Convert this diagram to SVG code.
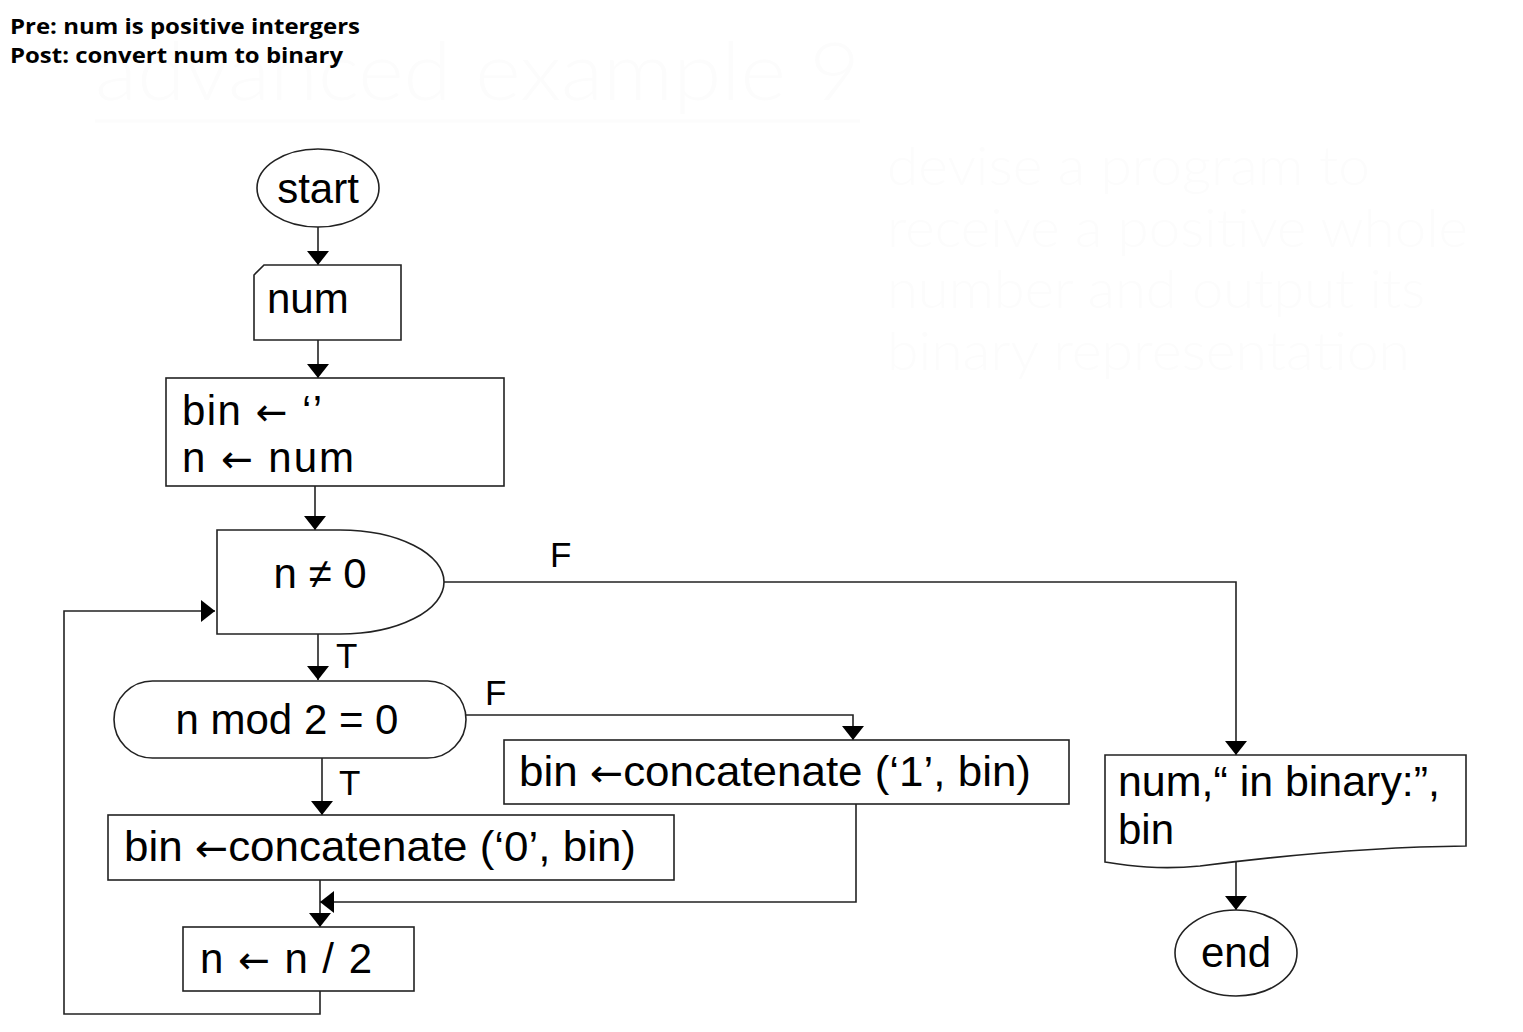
<svg xmlns="http://www.w3.org/2000/svg" width="1523" height="1032" viewBox="0 0 1523 1032">
<style>
.bg{fill:#fcfcfc;font-family:Lato,"Open Sans","Liberation Sans",sans-serif;font-weight:300}
.hdr{font-family:"Open Sans","DejaVu Sans",sans-serif;font-weight:bold;font-size:22px;fill:#000}
.shape{fill:#fff;stroke:#222;stroke-width:1.6}
.t{font-family:"Liberation Sans",Arial,sans-serif;font-size:42px;fill:#000}
.ar{font-family:"DejaVu Sans",sans-serif;font-size:38px}
.lbl{font-family:"Liberation Sans",Arial,sans-serif;font-size:35px;fill:#000}
.conn{fill:none;stroke:#222;stroke-width:1.6}
</style>
<defs>
<marker id="ah" viewBox="0 0 14 22" refX="14" refY="11" markerWidth="14" markerHeight="22" markerUnits="userSpaceOnUse" orient="auto">
<path d="M0,0 L14,11 L0,22 Z" fill="#000"/>
</marker>
</defs>
<rect width="1523" height="1032" fill="#fff"/>
<g id="background-text">
<text class="bg" x="95" y="100" font-size="80" textLength="765" lengthAdjust="spacingAndGlyphs">advanced example 9</text>
<line x1="95" y1="121" x2="860" y2="121" stroke="#fcfcfc" stroke-width="3"/>
<text class="bg" x="887" y="185" font-size="54" textLength="483" lengthAdjust="spacingAndGlyphs">devise a program to</text>
<text class="bg" x="887" y="247" font-size="54" textLength="581" lengthAdjust="spacingAndGlyphs">receive a positive whole</text>
<text class="bg" x="887" y="308" font-size="54" textLength="538" lengthAdjust="spacingAndGlyphs">number and output its</text>
<text class="bg" x="887" y="370" font-size="54" textLength="523" lengthAdjust="spacingAndGlyphs">binary representation</text>
</g>
<g id="header">
<text class="hdr" x="10" y="34" textLength="350" lengthAdjust="spacingAndGlyphs">Pre: num is positive intergers</text>
<text class="hdr" x="10" y="63" textLength="333" lengthAdjust="spacingAndGlyphs">Post: convert num to binary</text>
</g>
<g id="connectors">
<path class="conn" d="M318,227 V265" marker-end="url(#ah)"/>
<path class="conn" d="M318,340 V378" marker-end="url(#ah)"/>
<path class="conn" d="M315,486 V530" marker-end="url(#ah)"/>
<path class="conn" d="M318,634 V680" marker-end="url(#ah)"/>
<path class="conn" d="M322,758 V815" marker-end="url(#ah)"/>
<path class="conn" d="M466,715 H853 V740" marker-end="url(#ah)"/>
<path class="conn" d="M320,880 V927" marker-end="url(#ah)"/>
<path class="conn" d="M856,804 V902 H320" marker-end="url(#ah)"/>
<path class="conn" d="M320,991 V1014 H64 V611 H215" marker-end="url(#ah)"/>
<path class="conn" d="M444,582 H1236 V755" marker-end="url(#ah)"/>
<path class="conn" d="M1236,862 V910" marker-end="url(#ah)"/>
<text class="lbl" x="550" y="567">F</text>
<text class="lbl" x="485" y="705">F</text>
<text class="lbl" x="336" y="668">T</text>
<text class="lbl" x="339" y="795">T</text>
</g>
<g id="start">
<ellipse class="shape" cx="318" cy="188" rx="61" ry="39"/>
<text class="t" x="318" y="203" text-anchor="middle">start</text>
</g>
<g id="input-num">
<path class="shape" d="M264,265 H401 V340 H254 V275 Z"/>
<text class="t" x="267" y="313">num</text>
</g>
<g id="init">
<rect class="shape" x="166" y="378" width="338" height="108"/>
<text class="t" x="182" y="425" textLength="140" lengthAdjust="spacing">bin <tspan class="ar">←</tspan> ‘’</text>
<text class="t" x="182" y="472" textLength="172" lengthAdjust="spacing">n <tspan class="ar">←</tspan> num</text>
</g>
<g id="loop-cond">
<path class="shape" d="M217,530 H340 A104,52 0 0 1 340,634 H217 Z"/>
<text class="t" x="320" y="588" text-anchor="middle">n ≠ 0</text>
</g>
<g id="mod-cond">
<rect class="shape" x="114" y="681" width="352" height="77" rx="38.5" ry="38.5"/>
<text class="t" x="287" y="734" text-anchor="middle">n mod 2 = 0</text>
</g>
<g id="concat-1">
<rect class="shape" x="504" y="740" width="565" height="64"/>
<text class="t" x="519" y="786" textLength="512" lengthAdjust="spacingAndGlyphs">bin <tspan class="ar">←</tspan>concatenate (‘1’, bin)</text>
</g>
<g id="concat-0">
<rect class="shape" x="108" y="815" width="566" height="65"/>
<text class="t" x="124" y="861" textLength="512" lengthAdjust="spacingAndGlyphs">bin <tspan class="ar">←</tspan>concatenate (‘0’, bin)</text>
</g>
<g id="halve">
<rect class="shape" x="183" y="927" width="231" height="64"/>
<text class="t" x="200" y="973" textLength="172" lengthAdjust="spacing">n <tspan class="ar">←</tspan> n / 2</text>
</g>
<g id="output">
<path class="shape" d="M1105,755 H1466 V846 C1370,847 1270,857 1200,866 C1160,870 1130,866 1105,862 Z"/>
<text class="t" x="1118" y="796" textLength="322" lengthAdjust="spacingAndGlyphs">num,“ in binary:”,</text>
<text class="t" x="1118" y="844">bin</text>
</g>
<g id="end">
<ellipse class="shape" cx="1236" cy="953" rx="61" ry="43"/>
<text class="t" x="1236" y="967" text-anchor="middle">end</text>
</g>
</svg>
